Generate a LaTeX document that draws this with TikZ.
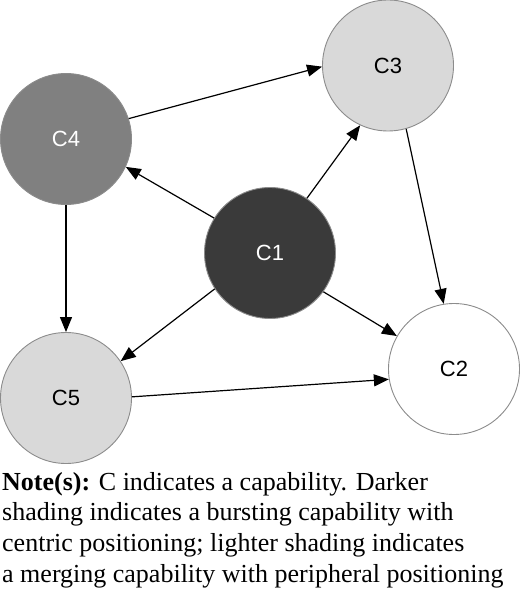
\documentclass[tikz,border=0pt]{standalone}
\usepackage{fontspec}
\setmainfont{Liberation Serif}
\newfontfamily\arialf{Liberation Sans}
\usetikzlibrary{arrows.meta}
\definecolor{cdark}{HTML}{3A3A3A}
\definecolor{cmid}{HTML}{808080}
\definecolor{clight}{HTML}{D9D9D9}
\definecolor{cborder}{HTML}{8C8C8C}
\begin{document}
\begin{tikzpicture}[x=1pt,y=-1pt,
  capnode/.style={circle,draw=cborder,line width=0.9pt,minimum size=131pt,inner sep=0pt,font=\arialf\fontsize{22}{24}\selectfont},
  link/.style={draw=black,line width=1.2pt,-{Triangle[length=15pt,width=12pt]}}]
\useasboundingbox (0,0) rectangle (520,593);
\node[capnode,fill=cdark,text=white] (c1) at (270,253) {C1};
\node[capnode,fill=white] (c2) at (454,369) {C2};
\node[capnode,fill=clight] (c3) at (388,65.5) {C3};
\node[capnode,fill=cmid,text=white] (c4) at (66,139) {C4};
\node[capnode,fill=clight] (c5) at (66,398) {C5};
\draw[link] (c4.18) -- (c3.181);
\draw[link] (c1.148) -- (c4.-25);
\draw[link] (c1.56) -- (c3.245);
\draw[link] (c3.286) -- (c2.99);
\draw[link] (c1.-36) -- (c2.150);
\draw[link] (c1.213) -- (c5.34);
\draw[link] (c4.270) -- (c5.90);
\draw[link] (c5.1) -- (c2.189);
\node[anchor=north west,align=left,inner sep=0pt,font=\fontsize{26}{30.7}\selectfont] (note) at (2,472)
{\textbf{Note(s):} C indicates a capability. Darker\\
shading indicates a bursting capability with\\
centric positioning; lighter shading indicates\\
a merging capability with peripheral positioning};
\end{tikzpicture}
\end{document}
